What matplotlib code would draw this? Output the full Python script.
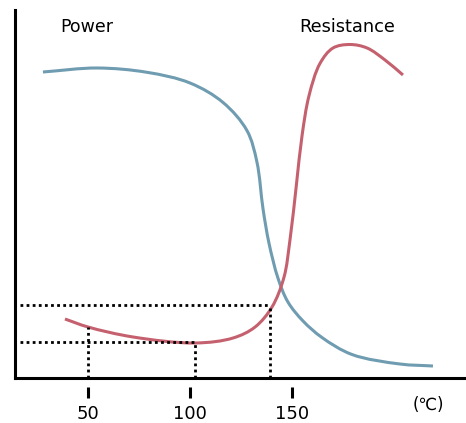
import matplotlib
matplotlib.use("Agg")
import matplotlib.pyplot as plt
import numpy as np
from matplotlib.path import Path
from matplotlib.patches import PathPatch

plt.rcParams['font.family'] = ['DejaVu Sans', 'Noto Sans CJK SC']

# temperature (deg C) vs relative value
power_t = [27.9, 54.4, 78.9, 100.0, 116.2, 127.9, 132.8, 135.8, 138.7,
           143.1, 148.0, 155.4, 164.7, 179.4, 202.9, 219.1]
power_v = [306, 310, 305.7, 295, 275.5, 247.5, 216, 169, 135,
           100, 76, 57, 40.5, 23.5, 14, 12]

res_t = [38.7, 50.0, 72.1, 102.5, 121.1, 131.9, 140.2, 146.1, 149.0,
         152.2, 154.9, 158.3, 163.7, 170.1, 178.4, 186.8, 195.6, 204.4]
res_v = [59, 51, 41, 35, 40, 51, 71, 101, 138,
         194, 242, 282, 314.5, 330, 333.5, 330, 318, 303]

ticks = [50, 100, 150]

# guide lines: (temperature, value on the resistance curve)
guide_low = (102.5, 36)
guide_high = (139.2, 73)
guide_50 = (50, 51)

blue = '#6f9cb1'
red = '#c5616f'


def smooth(xs, ys, sx=2.04):
    # centripetal catmull-rom through the points, as bezier segments
    p = np.column_stack([xs, ys]).astype(float)
    q = np.vstack([2 * p[0] - p[1], p, 2 * p[-1] - p[-2]])
    d = np.hypot(np.diff(q[:, 0]) * sx, np.diff(q[:, 1])) ** 0.5
    t = np.concatenate([[0], np.cumsum(d)])
    verts = [p[0]]
    codes = [Path.MOVETO]
    for i in range(1, len(q) - 2):
        p0, p1, p2, p3 = q[i - 1], q[i], q[i + 1], q[i + 2]
        t0, t1, t2, t3 = t[i - 1], t[i], t[i + 1], t[i + 2]
        m1 = (t2 - t1) * ((p1 - p0) / (t1 - t0) - (p2 - p0) / (t2 - t0)
                          + (p2 - p1) / (t2 - t1))
        m2 = (t2 - t1) * ((p2 - p1) / (t2 - t1) - (p3 - p1) / (t3 - t1)
                          + (p3 - p2) / (t3 - t2))
        verts += [p1 + m1 / 3, p2 - m2 / 3, p2]
        codes += [Path.CURVE4] * 3
    return Path(verts, codes)


fig = plt.figure(figsize=(4.66, 4.23), dpi=100)
ax = fig.add_axes([15 / 466, 45 / 423, 451 / 466, 368 / 423])

ax.add_patch(PathPatch(smooth(power_t, power_v), fill=False, ec=blue, lw=2.2))
ax.add_patch(PathPatch(smooth(res_t, res_v), fill=False, ec=red, lw=2.2))

x0 = 16.7
dots = (0, (1, 1.2))
ax.plot([x0, guide_high[0]], [guide_high[1]] * 2, color='black', ls=dots, lw=2)
ax.plot([guide_high[0]] * 2, [0, guide_high[1]], color='black', ls=dots, lw=2)
ax.plot([x0, guide_low[0]], [guide_low[1]] * 2, color='black', ls=dots, lw=2)
ax.plot([guide_low[0]] * 2, [0, guide_low[1]], color='black', ls=dots, lw=2)
ax.plot([guide_50[0]] * 2, [0, guide_50[1]], color='black', ls=dots, lw=2)

ax.set_xlim(14.2, 235.3)
ax.set_ylim(0, 368)

for s in ['top', 'right']:
    ax.spines[s].set_visible(False)
for s in ['left', 'bottom']:
    ax.spines[s].set_linewidth(2.2)
ax.set_xticks([])
ax.set_yticks([])

sec = ax.secondary_xaxis(location=-0.024)
sec.spines['bottom'].set_visible(False)
sec.set_xticks(ticks)
sec.set_xticklabels([str(t) for t in ticks])
sec.tick_params(axis='x', length=8, width=2.2, pad=5, labelsize=13)

ax.text(49.5, 351, 'Power', ha='center', va='center', fontsize=12.5)
ax.text(177, 351, 'Resistance', ha='center', va='center', fontsize=12.8)
ax.text(0.916, -0.073, '(℃)', transform=ax.transAxes, ha='center', va='center',
        fontsize=12)

fig.savefig('out.png', dpi=100)
